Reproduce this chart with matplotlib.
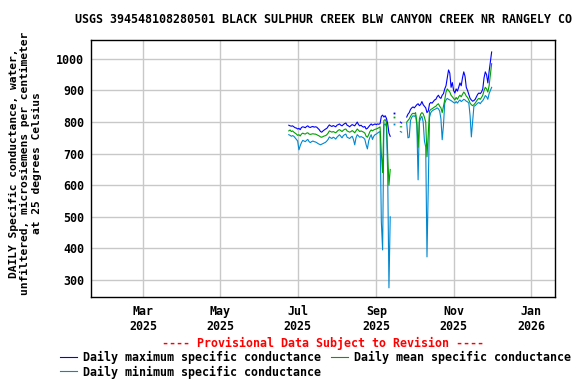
import numpy as np
import matplotlib
matplotlib.use("Agg")
import matplotlib.pyplot as plt
import matplotlib.dates as mdates

nan = np.nan

# Daily values, one per day starting at start_date (nan = no data)
start_date = "2025-06-24"

daily_max = [
    790, 788, 787, 788, 785, 782, 781, 778, 780, 776,
    783, 785, 784, 782, 786, 788, 784, 783, 785, 786,
    784, 785, 784, 780, 776, 770, 768, 772, 775, 778,
    780, 786, 791, 788, 786, 789, 787, 785, 790, 792,
    794, 790, 788, 792, 795, 797, 790, 788, 785, 789,
    792, 790, 788, 794, 800, 792, 788, 790, 786, 784,
    786, 778, 780, 785, 790, 794, 790, 792, 794, 792,
    794, 793, 795, 818, 822, 816, 820, 812, 795, 765, 755,
    nan, nan, 829, nan, nan, nan, nan, 800, 797, nan, nan, nan,
    816, 825, 830, 840, 845, 848, 845, 850, 855, 858,
    852, 856, 865, 855, 850, 845, 830, 835, 858, 862,
    860, 865, 870, 872, 880, 885, 878, 875, 885, 890,
    905, 915, 940, 965, 955, 910, 925, 900, 892, 905,
    898, 910, 924, 915, 940, 959, 945, 910, 900, 888,
    875, 870, 866, 868, 872, 880, 888, 892, 890, 895,
    905, 940, 959, 950, 924, 960, 990, 1022,
]

daily_mean = [
    772, 775, 770, 772, 768, 765, 762, 758, 760, 756,
    762, 765, 763, 762, 765, 766, 762, 761, 762, 763,
    762, 762, 760, 758, 756, 753, 752, 754, 756, 757,
    760, 765, 772, 770, 768, 770, 768, 766, 770, 774,
    776, 773, 770, 774, 777, 778, 772, 770, 768, 770,
    773, 770, 766, 772, 778, 774, 770, 772, 770, 768,
    765, 755, 752, 760, 770, 775, 772, 775, 777, 778,
    780, 782, 785, 700, 640, 805, 808, 800, 700, 600, 650,
    nan, nan, 816, nan, nan, nan, nan, 785, 785, nan, nan, nan,
    800, 805, 810, 818, 825, 828, 826, 830, 800, 720,
    810, 825, 830, 826, 815, 800, 690, 760, 835, 840,
    842, 845, 848, 850, 855, 858, 850, 845, 830, 850,
    870, 895, 905, 900, 895, 885, 880, 875, 870, 878,
    872, 880, 885, 880, 888, 895, 890, 882, 878, 870,
    860, 855, 852, 855, 860, 866, 872, 875, 872, 878,
    885, 900, 910, 905, 895, 915, 950, 985,
]

daily_min = [
    760, 758, 755, 757, 755, 750, 745, 740, 712, 725,
    735, 742, 740, 738, 742, 745, 738, 735, 738, 740,
    738, 737, 735, 732, 730, 728, 730, 732, 734, 736,
    740, 745, 753, 750, 748, 752, 750, 746, 752, 756,
    760, 755, 750, 757, 760, 762, 752, 750, 748, 752,
    755, 745, 728, 750, 760, 756, 752, 754, 752, 750,
    745, 728, 715, 740, 752, 760, 745, 755, 760, 762,
    765, 768, 770, 484, 395, 790, 795, 785, 640, 275, 500,
    nan, nan, 794, nan, nan, nan, nan, 770, 768, nan, nan, nan,
    797, 750, 752, 805, 815, 820, 818, 822, 790, 617,
    800, 812, 818, 800, 740, 721, 373, 600, 815, 830,
    835, 838, 840, 842, 845, 842, 835, 810, 744, 790,
    860, 870, 875, 872, 870, 868, 865, 862, 860, 865,
    860, 866, 870, 865, 868, 872, 870, 866, 864, 860,
    820, 753, 800, 850, 852, 856, 860, 862, 858, 864,
    868, 875, 884, 880, 872, 890, 900, 910,
]

y_ticks = [300, 400, 500, 600, 700, 800, 900, 1000]

title = "USGS 394548108280501 BLACK SULPHUR CREEK BLW CANYON CREEK NR RANGELY CO"
ylabel = ("DAILY Specific conductance, water,\n"
          "unfiltered, microsiemens per centimeter\n"
          "at 25 degrees Celsius")

plt.rcParams["font.family"] = "DejaVu Sans Mono"
plt.rcParams["font.weight"] = "bold"
plt.rcParams["font.size"] = 8.4

dates = np.arange(np.datetime64(start_date), np.datetime64(start_date) + len(daily_max))


def isolated(vals):
    # points with no neighbour on either side (drawn as dots)
    v = np.array(vals, dtype=float)
    prev = np.r_[nan, v[:-1]]
    nxt = np.r_[v[1:], nan]
    return ~np.isnan(v) & np.isnan(prev) & np.isnan(nxt)


fig = plt.figure(figsize=(5.76, 3.84), dpi=100)
ax = fig.add_axes([0.158, 0.2266, 0.8056, 0.6693])

c_max, c_mean, c_min = "#0000ff", "#00a000", "#0088d0"

l_min, = ax.plot(dates, daily_min, color=c_min, lw=0.8)
l_mean, = ax.plot(dates, daily_mean, color=c_mean, lw=0.8)
l_max, = ax.plot(dates, daily_max, color=c_max, lw=0.8)
for vals, c in [(daily_min, c_min), (daily_mean, c_mean), (daily_max, c_max)]:
    m = isolated(vals)
    ax.plot(dates[m], np.array(vals, dtype=float)[m], "s", color=c, ms=1.3, mew=0)

ax.set_xlim(np.datetime64("2025-01-19"), np.datetime64("2026-01-20"))
ax.set_ylim(246, 1060)
ax.set_yticks(y_ticks)
ax.xaxis.set_major_locator(mdates.MonthLocator(bymonth=[1, 3, 5, 7, 9, 11]))
ax.xaxis.set_major_formatter(mdates.DateFormatter("%b\n%Y"))
ax.tick_params(length=0, pad=6)
ax.tick_params(axis="y", pad=5)
ax.grid(True, color="#c8c8c8", lw=1.0)
ax.set_axisbelow(True)
for s in ax.spines.values():
    s.set_linewidth(1.0)

ax.set_title(title, fontsize=8.4, fontweight="bold", pad=12)
fig.text(0.044, 0.575, ylabel, rotation=90, ha="center", va="center",
         multialignment="center", linespacing=1.15, fontsize=8.1)

fig.text(0.561, 0.105, "---- Provisional Data Subject to Revision ----",
         color="red", ha="center", va="center")

fig.legend([l_max, l_min, l_mean],
           ["Daily maximum specific conductance",
            "Daily minimum specific conductance",
            "Daily mean specific conductance"],
           ncol=2, loc="upper left", bbox_to_anchor=(0.104, 0.087),
           frameon=False, borderpad=0, borderaxespad=0,
           handlelength=1.5, handletextpad=0.5, columnspacing=0.8,
           labelspacing=0.15)

fig.savefig("out.png", dpi=100)
